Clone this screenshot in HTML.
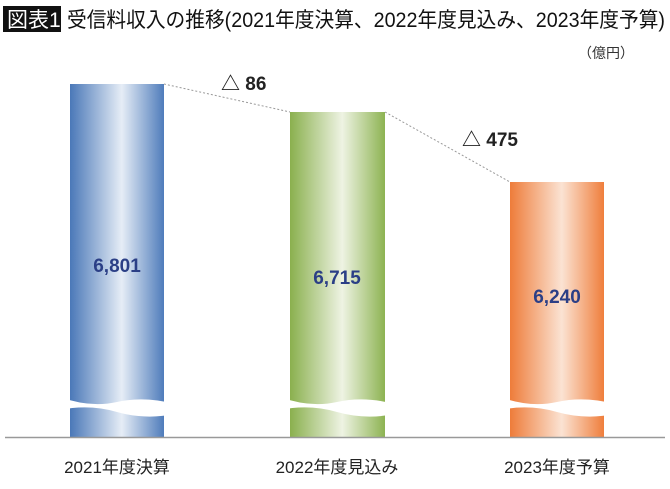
<!DOCTYPE html>
<html><head><meta charset="utf-8"><style>
body{margin:0;background:#fff;}
svg text{font-family:"Liberation Sans","Noto Sans CJK JP",sans-serif;}
</style></head><body>
<svg width="670" height="484" viewBox="0 0 670 484" xmlns="http://www.w3.org/2000/svg">
<defs>
<linearGradient id="b" x1="0" x2="1"><stop offset="0" stop-color="#4a78b8"/><stop offset="0.55" stop-color="#e6edf6"/><stop offset="1" stop-color="#4f7cbb"/></linearGradient>
<linearGradient id="g" x1="0" x2="1"><stop offset="0" stop-color="#8ab04e"/><stop offset="0.55" stop-color="#eef3e3"/><stop offset="1" stop-color="#8db352"/></linearGradient>
<linearGradient id="o" x1="0" x2="1"><stop offset="0" stop-color="#ee7c3a"/><stop offset="0.55" stop-color="#fbe3d3"/><stop offset="1" stop-color="#ef7e3c"/></linearGradient>
</defs>
<rect x="3" y="6" width="58" height="26" fill="#111"/>
<text x="7" y="27" font-size="21" fill="#fff">図表1</text>
<text x="67" y="27" font-size="21" fill="#111" textLength="598" lengthAdjust="spacingAndGlyphs">受信料収入の推移(2021年度決算、2022年度見込み、2023年度予算)</text>
<text x="578" y="58" font-size="14" fill="#333">（億円）</text>
<rect x="70" y="84" width="94" height="353" fill="url(#b)"/>
<rect x="290" y="112" width="95" height="325" fill="url(#g)"/>
<rect x="510" y="182" width="94" height="255" fill="url(#o)"/>
<g fill="#fff">
<path d="M60 397 Q90 408 117 402 T175 404 L175 414 Q145 420 117 412 T60 410 Z"/>
<path d="M280 397 Q310 408 337 402 T395 404 L395 414 Q365 420 337 412 T280 410 Z"/>
<path d="M500 397 Q530 408 557 402 T615 404 L615 414 Q585 420 557 412 T500 410 Z"/>
</g>
<line x1="5" y1="437.5" x2="665" y2="437.5" stroke="#999" stroke-width="1.5"/>
<line x1="164" y1="84" x2="290" y2="112" stroke="#999" stroke-dasharray="2,2"/>
<line x1="385" y1="112" x2="510" y2="182" stroke="#999" stroke-dasharray="2,2"/>
<text x="221" y="90" font-size="19" font-weight="bold" fill="#222">△ 86</text>
<text x="462" y="146" font-size="19" font-weight="bold" fill="#222">△ 475</text>
<g font-size="19" font-weight="bold" fill="#2b3f86" text-anchor="middle">
<text x="117" y="272">6,801</text>
<text x="337" y="284">6,715</text>
<text x="557" y="303">6,240</text>
</g>
<g font-size="17" fill="#222" text-anchor="middle">
<text x="117" y="473">2021年度決算</text>
<text x="337" y="473">2022年度見込み</text>
<text x="557" y="473">2023年度予算</text>
</g>
</svg>
</body></html>
